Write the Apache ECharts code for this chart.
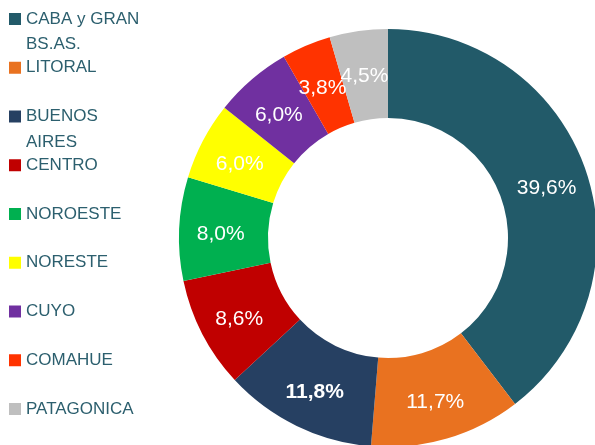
<!DOCTYPE html>
<html>
<head>
<meta charset="utf-8">
<script src="https://cdn.jsdelivr.net/npm/echarts@6/dist/echarts.min.js"></script>
<style>
  html, body { margin: 0; padding: 0; background: #fff; }
  #chart { width: 595px; height: 445px; }
</style>
</head>
<body>
<div id="chart"></div>
<script>
// regiones (el \n marca el corte de linea de la leyenda)
const regions = ['CABA y GRAN\nBS.AS.', 'LITORAL', 'BUENOS\nAIRES', 'CENTRO', 'NOROESTE', 'NORESTE', 'CUYO', 'COMAHUE', 'PATAGONICA'];
const shares = [39.6, 11.7, 11.8, 8.6, 8.0, 6.0, 6.0, 3.8, 4.5];
const colors = ['#225A69', '#E97220', '#264062', '#C00000', '#00B050', '#FFFF00', '#7030A0', '#FF3300', '#BFBFBF'];
const boldLabels = ['BUENOS\nAIRES'];

const legendTop = 9;
const legendStep = 48.75;
const textColor = '#2C5F6E';

const chart = echarts.init(document.getElementById('chart'));

// segunda linea de los nombres largos
const extraLines = [];
regions.forEach(function (name, i) {
  const parts = name.split('\n');
  if (parts.length > 1) {
    extraLines.push({
      type: 'text',
      left: 26,
      top: legendTop + i * legendStep + 27,
      style: {
        text: parts[1],
        fill: textColor,
        font: '17px "Liberation Sans", Arial, sans-serif'
      }
    });
  }
});

const option = {
  backgroundColor: '#fff',
  color: colors,
  legend: {
    orient: 'vertical',
    left: 9,
    top: legendTop,
    padding: 0,
    itemWidth: 12,
    itemHeight: 12,
    itemGap: legendStep - 20,
    icon: 'rect',
    data: regions,
    formatter: function (name) {
      return name.split('\n')[0];
    },
    textStyle: {
      color: textColor,
      fontSize: 17,
      lineHeight: 20,
      fontFamily: '"Liberation Sans", Arial, sans-serif'
    }
  },
  graphic: extraLines,
  series: [{
    type: 'pie',
    radius: [120, 209],
    center: [388, 238],
    startAngle: 90,
    clockwise: true,
    avoidLabelOverlap: false,
    animation: false,
    labelLayout: { hideOverlap: false },
    label: {
      show: true,
      position: 'inside',
      offset: [0, 4],
      color: '#fff',
      fontSize: 21,
      fontFamily: '"Liberation Sans", Arial, sans-serif',
      formatter: function (p) {
        return p.value.toFixed(1).replace('.', ',') + '%';
      }
    },
    labelLine: { show: false },
    emphasis: { disabled: true },
    data: regions.map(function (name, i) {
      const item = { name: name, value: shares[i] };
      if (boldLabels.indexOf(name) >= 0) {
        item.label = { fontWeight: 'bold' };
      }
      return item;
    })
  }]
};

chart.setOption(option);
</script>
</body>
</html>
